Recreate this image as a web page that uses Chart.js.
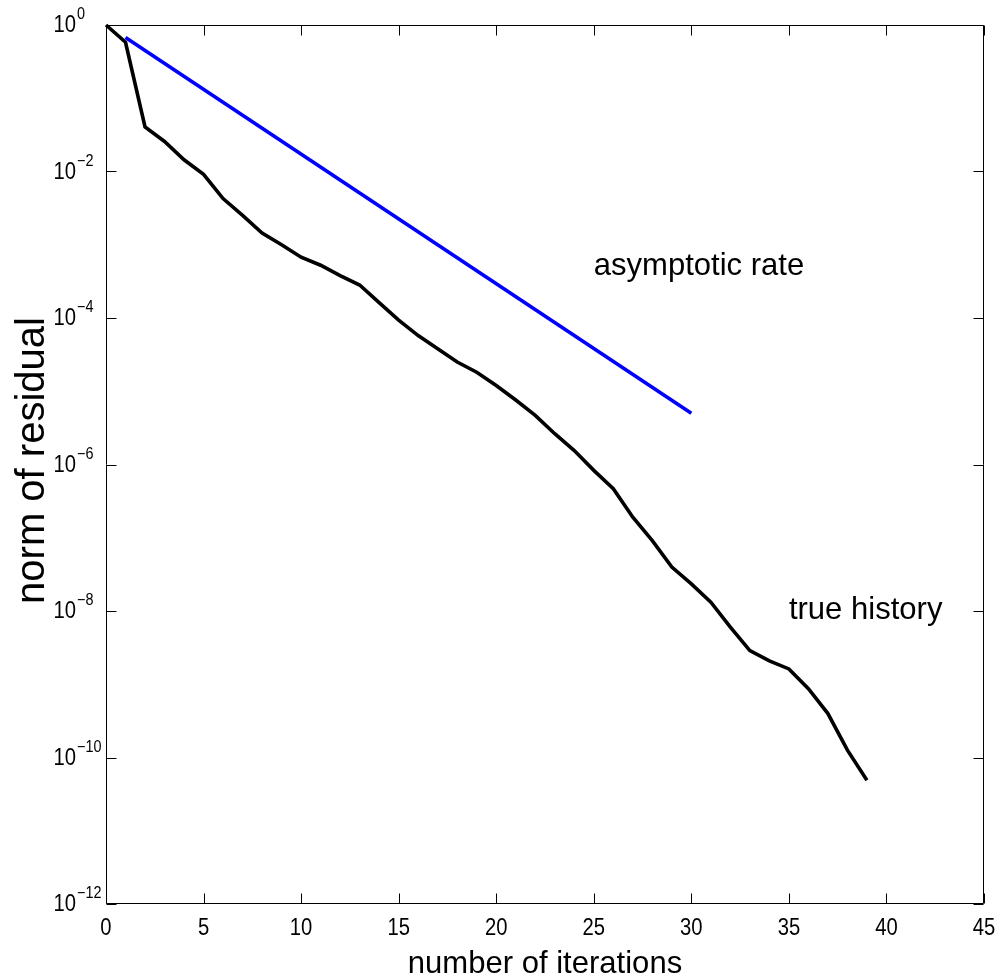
<!DOCTYPE html>
<html><head><meta charset="utf-8">
<script src="https://cdn.jsdelivr.net/npm/chart.js@4"></script>
<style>html,body{margin:0;padding:0;background:#fff;} #wrap{width:999px;height:980px;position:relative;}</style>
</head><body><div id="wrap"><canvas id="c"></canvas></div>
<script>
// ---- data ----
const iterations = [0,1,2,3,4,5,6,7,8,9,10,11,12,13,14,15,16,17,18,19,20,21,22,23,24,25,26,27,28,29,30,31,32,33,34,35,36,37,38,39];
const trueHistory = [1, 0.581, 0.0407, 0.0257, 0.01445, 0.00912, 0.00427, 0.00251, 0.001445, 0.001,
  6.76e-4, 5.25e-4, 3.80e-4, 2.82e-4, 1.62e-4, 9.33e-5, 5.75e-5, 3.80e-5, 2.51e-5, 1.82e-5,
  1.20e-5, 7.59e-6, 4.68e-6, 2.63e-6, 1.55e-6, 8.32e-7, 4.68e-7, 1.91e-7, 9.12e-8, 3.98e-8,
  2.34e-8, 1.32e-8, 6.03e-9, 2.88e-9, 2.09e-9, 1.62e-9, 8.71e-10, 3.98e-10, 1.26e-10, 4.90e-11];
const rateIterations = [1, 30];
const rateValues = [0.676, 5.01e-6];
const xTickValues = [0,5,10,15,20,25,30,35,40,45];
const yTickExponents = [0,-2,-4,-6,-8,-10,-12];
const xTitle = 'number of iterations';
const yTitle = 'norm of residual';
const annotationTexts = ['asymptotic rate', 'true history'];
const annotationX = [25, 35];
const annotationY = [5e-4, 1e-8];

const FONT = '"Liberation Sans", Arial, Helvetica, sans-serif';

// draw text horizontally condensed (Helvetica-narrow look)
function condText(ctx, txt, px, py, sx, align) {
  ctx.save();
  ctx.translate(px, py);
  ctx.scale(sx, 1);
  ctx.textAlign = align;
  ctx.fillText(txt, 0, 0);
  ctx.restore();
}

const framePlugin = {
  id: 'frame',
  beforeDatasetsDraw(chart) {
    const {ctx, chartArea: a, scales: {x, y}} = chart;
    ctx.save();
    ctx.strokeStyle = '#000';
    ctx.lineWidth = 1;
    const L = a.left + 0.5, R = a.right - 0.5, T = a.top + 0.5, B = a.bottom - 0.5;
    ctx.beginPath();
    ctx.rect(L, T, R - L, B - T);
    const tl = 10;
    xTickValues.forEach(v => {
      const px = Math.round(x.getPixelForValue(v)) + 0.5;
      ctx.moveTo(px, B); ctx.lineTo(px, B - tl);
      ctx.moveTo(px, T); ctx.lineTo(px, T + tl);
    });
    yTickExponents.forEach(e => {
      const py = Math.round(y.getPixelForValue(Math.pow(10, e))) + 0.5;
      ctx.moveTo(L, py); ctx.lineTo(L + tl, py);
      ctx.moveTo(R, py); ctx.lineTo(R - tl, py);
    });
    ctx.stroke();
    ctx.restore();
  },
  afterDraw(chart) {
    const {ctx, chartArea: a, scales: {x, y}} = chart;
    ctx.save();
    ctx.fillStyle = '#000';
    // x tick labels
    ctx.font = '23px ' + FONT;
    ctx.textBaseline = 'alphabetic';
    xTickValues.forEach(v => {
      condText(ctx, String(v), x.getPixelForValue(v), a.bottom + 31, 0.88, 'center');
    });
    // y tick labels 10^e
    yTickExponents.forEach(e => {
      const py = y.getPixelForValue(Math.pow(10, e));
      ctx.font = '23px ' + FONT;
      ctx.textBaseline = 'middle';
      condText(ctx, '10', 76, py + 1, 0.88, 'right');
      ctx.font = '16px ' + FONT;
      condText(ctx, e === 0 ? '0' : '\u2212' + Math.abs(e), 77, py - 10, 0.9, 'left');
    });
    // annotations
    ctx.font = '32px ' + FONT;
    ctx.textBaseline = 'alphabetic';
    annotationTexts.forEach((t, i) => {
      condText(ctx, t, x.getPixelForValue(annotationX[i]), y.getPixelForValue(annotationY[i]) + 8, 0.97, 'left');
    });
    // axis titles
    ctx.font = '32px ' + FONT;
    condText(ctx, xTitle, (a.left + a.right) / 2, 973, 0.97, 'center');
    ctx.font = '40px ' + FONT;
    ctx.textAlign = 'center';
    ctx.translate(44, (a.top + a.bottom) / 2 - 4);
    ctx.rotate(-Math.PI / 2);
    ctx.fillText(yTitle, 0, 0);
    ctx.restore();
  }
};

new Chart(document.getElementById('c'), {
  type: 'line',
  data: {
    datasets: [
      {
        label: 'asymptotic rate',
        data: rateIterations.map((v, i) => ({x: v, y: rateValues[i]})),
        borderColor: '#0000ff', borderWidth: 3.6, pointRadius: 0, tension: 0,
        fill: false, order: 0, clip: 8
      },
      {
        label: 'true history',
        data: iterations.map((v, i) => ({x: v, y: trueHistory[i]})),
        borderColor: '#000000', borderWidth: 3.6, pointRadius: 0, tension: 0,
        fill: false, order: 1, clip: 8
      }
    ]
  },
  options: {
    responsive: true, maintainAspectRatio: false, animation: false,
    layout: {padding: {left: 0, right: 15, top: 25, bottom: 0}},
    plugins: {legend: {display: false}, tooltip: {enabled: false}},
    scales: {
      x: {type: 'linear', min: 0, max: 45, grid: {display: false}, border: {display: false},
          ticks: {display: false}, afterFit(s) { s.height = 76; }},
      y: {type: 'logarithmic', min: 1e-12, max: 1, grid: {display: false}, border: {display: false},
          ticks: {display: false}, afterFit(s) { s.width = 106; }}
    }
  },
  plugins: [framePlugin]
});
</script>
</body></html>
